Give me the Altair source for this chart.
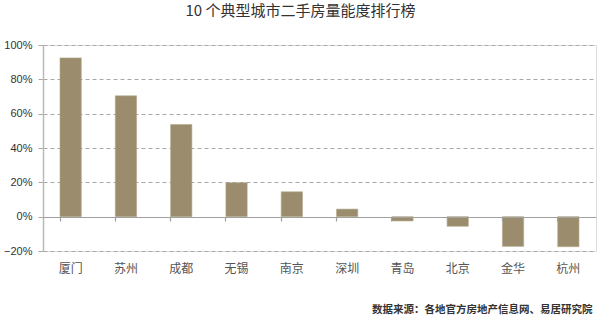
import altair as alt
import pandas as pd

cities = ["厦门", "苏州", "成都", "无锡", "南京", "深圳", "青岛", "北京", "金华", "杭州"]
values = [0.925, 0.704, 0.537, 0.198, 0.145, 0.044, -0.025, -0.056, -0.173, -0.175]
y_ticks = [-0.2, 0.0, 0.2, 0.4, 0.6, 0.8, 1.0]

title_text = "10 个典型城市二手房量能度排行榜"
source_text = "数据来源：各地官方房地产信息网、易居研究院"

df = pd.DataFrame({"city": cities, "value": values})

FONT = "Noto Sans CJK SC"
xscale = alt.Scale(paddingInner=0.615, paddingOuter=0.3075)
yscale = alt.Scale(domain=[-0.2, 1.0], nice=False, zero=False)

bars = alt.Chart(df).mark_bar(color="#9a8c6c", stroke="#b3a98c", strokeWidth=0.6).encode(
    x=alt.X("city:N", sort=cities, scale=xscale,
            axis=alt.Axis(orient="bottom", title=source_text, titleFontSize=10.5,
                          titleFontWeight="bold", titleColor="#333333", titleFont=FONT,
                          titlePadding=30, titleAlign="right", titleX=549,
                          domain=False, ticks=False, labelAngle=0, labelFontSize=12,
                          labelFont=FONT, labelColor="#555555", labelPadding=12)),
    y=alt.Y("value:Q", scale=yscale,
            axis=alt.Axis(orient="left", title=None, values=y_ticks, format=".0%", labelFontSize=11,
                          labelFont="Liberation Sans", labelColor="#333333",
                          labelOverlap=False, labelFlush=False, zindex=0,
                          grid=True, gridDash=[4, 3], gridColor="#a8a8a8", gridWidth=1,
                          domain=True, domainColor="#b8b8b8", domainWidth=1.5,
                          tickSize=5, tickColor="#a8a8a8", labelPadding=6)),
)

zero = alt.Chart(df).mark_rule(strokeOpacity=0).encode(
    x=alt.X("city:N", sort=cities, scale=xscale,
            axis=alt.Axis(orient="bottom", title=None, labels=False, bandPosition=0, offset=-34,
                          domain=True, domainColor="#a0a0a0", domainWidth=1.2, zindex=1,
                          ticks=True, tickSize=4, tickColor="#a0a0a0", tickWidth=1.2)),
    y=alt.YDatum(0, type="quantitative", scale=yscale, axis=None),
)

chart = alt.layer(bars, zero).resolve_axis(x="independent", y="independent").properties(
    width=553,
    height=206,
    autosize=alt.AutoSizeParams(type="none"),
    padding={"left": 43, "top": 45, "right": 4, "bottom": 74},
    title=alt.TitleParams(title_text, fontSize=15, font=FONT, fontWeight="normal",
                          color="#333333", anchor="middle", dx=-19, offset=20),
).configure_view(stroke=None).configure(background="white")

chart.save("out.html", embed_options={"renderer": "svg", "actions": False})
